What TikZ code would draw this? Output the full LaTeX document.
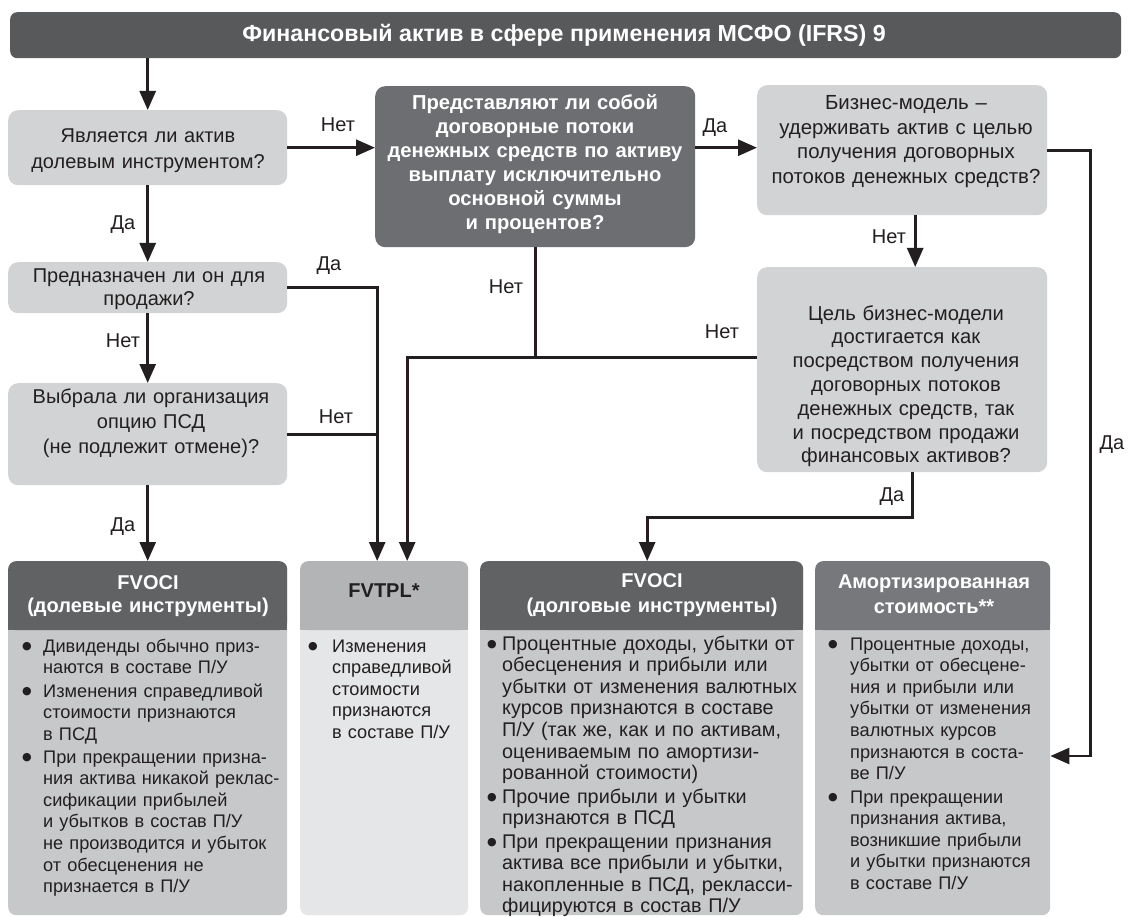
\documentclass[tikz,border=0pt]{standalone}
\usepackage{fontspec}
\setmainfont{Liberation Sans}
\newfontfamily\symfont{DejaVu Sans}
\usetikzlibrary{arrows.meta,calc}
\definecolor{lc}{HTML}{231F20}
\definecolor{tc}{HTML}{231F20}
\definecolor{titlec}{HTML}{58595B}
\definecolor{qlight}{HTML}{D1D3D4}
\definecolor{qdark}{HTML}{6D6E71}
\definecolor{hdrdark}{HTML}{616264}
\definecolor{hdrmid}{HTML}{77787B}
\definecolor{hdrlight}{HTML}{B2B4B6}
\definecolor{bodymid}{HTML}{C7C8CA}
\definecolor{bodylight}{HTML}{E5E6E7}
\begin{document}
\begin{tikzpicture}[x=1pt,y=-1pt,
  box/.style={rectangle, rounded corners=10pt, inner sep=0, draw=none, anchor=north west},
  bbox/.style={rectangle, rounded corners=8pt, inner sep=0, draw=none, anchor=north west},
  arr/.style={-{Triangle[length=19pt,width=16pt]}, line width=2.7pt, draw=lc},
  ln/.style={line width=2.7pt, draw=lc},
  qtxt/.style={inner sep=0, anchor=base, text width=330pt, align=center, text=tc},
  btxt/.style={inner sep=0, anchor=base west, text width=330pt, align=left, text=tc, font=\fontsize{18.2}{21.6}\selectfont},
  btxtw/.style={btxt, font=\fontsize{19.8}{21.6}\selectfont},
  bul/.style={inner sep=0, anchor=center, text=tc, font=\symfont\fontsize{11}{12}\selectfont},
  lbl/.style={inner sep=0, text=tc, font=\fontsize{20}{24}\selectfont}
]
\useasboundingbox (0,0) rectangle (1129,917);
\fill[white] (0,0) rectangle (1129,917);

% title
\node[box, rounded corners=7pt, fill=titlec, minimum width=1111pt, minimum height=46pt] (title) at (10,12) {};
\node[inner sep=0, text=white, font=\fontsize{23.2}{26}\selectfont\bfseries] (titlet) at (564,35) {Финансовый актив в сфере применения МСФО (IFRS) 9};

% question boxes
\node[box, fill=qlight, minimum width=279pt, minimum height=75pt] (q1) at (8,110) {};
\node[box, fill=qdark, minimum width=320pt, minimum height=161pt] (q2) at (375,86) {};
\node[box, fill=qlight, minimum width=290pt, minimum height=130pt] (q3) at (757,85) {};
\node[box, fill=qlight, minimum width=290pt, minimum height=205pt] (q4) at (757,267) {};
\node[box, fill=qlight, minimum width=279pt, minimum height=51pt] (q5) at (8,262) {};
\node[box, fill=qlight, minimum width=279pt, minimum height=102pt] (q6) at (8,383) {};

\node[qtxt, font=\fontsize{20}{26}\selectfont] (q1t) at (148,143) {Является ли актив\\долевым инструментом?};
\node[qtxt, text=white, font=\fontsize{20.2}{24}\selectfont\bfseries] (q2t) at (535,110) {Представляют ли собой\\договорные потоки\\денежных средств по активу\\выплату исключительно\\основной суммы\\и процентов?};
\node[qtxt, font=\fontsize{20.4}{24.4}\selectfont] (q3t) at (906,110) {Бизнес-модель –\\удерживать актив с целью\\получения договорных\\потоков денежных средств?};
\node[qtxt, font=\fontsize{20.2}{23.8}\selectfont] (q4t) at (906,320) {Цель бизнес-модели\\достигается как\\посредством получения\\договорных потоков\\денежных средств, так\\и посредством продажи\\финансовых активов?};
\node[qtxt, font=\fontsize{20}{23}\selectfont] (q5t) at (149,282) {Предназначен ли он для\\продажи?};
\node[qtxt, font=\fontsize{20}{25}\selectfont] (q6t) at (151,403) {Выбрала ли организация\\опцию ПСД\\(не подлежит отмене)?};

% bottom boxes
\node[bbox, fill=bodymid, minimum width=279pt, minimum height=354pt] (fe) at (8,561) {};
\node[bbox, fill=bodylight, minimum width=168pt, minimum height=354pt] (fv) at (300,561) {};
\node[bbox, fill=bodymid, minimum width=323pt, minimum height=354pt] (fd) at (480,561) {};
\node[bbox, fill=bodymid, minimum width=235pt, minimum height=354pt] (am) at (815,561) {};

\node[bbox, fill=hdrdark, minimum width=279pt, minimum height=69pt] (feh) at (8,561) {};
\fill[hdrdark] (8,600) rectangle (287,630);
\node[bbox, fill=hdrlight, minimum width=168pt, minimum height=69pt] (fvh) at (300,561) {};
\fill[hdrlight] (300,600) rectangle (468,630);
\node[bbox, fill=hdrdark, minimum width=323pt, minimum height=69pt] (fdh) at (480,561) {};
\fill[hdrdark] (480,600) rectangle (803,630);
\node[bbox, fill=hdrmid, minimum width=235pt, minimum height=69pt] (amh) at (815,561) {};
\fill[hdrmid] (815,600) rectangle (1050,630);

\node[qtxt, text=white, font=\fontsize{20}{23}\selectfont\bfseries] (fet) at (148,589) {FVOCI\\(долевые инструменты)};
\node[qtxt, text=tc, font=\fontsize{20}{23}\selectfont\bfseries] (fvt) at (384,597) {FVTPL*};
\node[qtxt, text=white, font=\fontsize{20}{25}\selectfont\bfseries] (fdt) at (652,587) {FVOCI\\(долговые инструменты)};
\node[qtxt, text=white, font=\fontsize{20}{25}\selectfont\bfseries] (amt) at (934,588) {Амортизированная\\стоимость**};

% bullets FVOCI equity
\node[bul] (feb1) at (27,646.5) {●};
\node[btxt] (fet1) at (43,652) {Дивиденды обычно приз-\\наются в составе П/У};
\node[bul] (feb2) at (27,691.5) {●};
\node[btxt] (fet2) at (43,697) {Изменения справедливой\\стоимости признаются\\в ПСД};
\node[bul] (feb3) at (27,757.5) {●};
\node[btxt] (fet3) at (43,763) {При прекращении призна-\\ния актива никакой реклас-\\сификации прибылей\\и убытков в состав П/У\\не производится и убыток\\от обесценения не\\признается в П/У};

% FVTPL
\node[bul] (fvb1) at (313,646.5) {●};
\node[btxt] (fvt1) at (332,652) {Изменения\\справедливой\\стоимости\\признаются\\в составе П/У};

% FVOCI debt
\node[bul] (fdb1) at (492,644.5) {●};
\node[btxtw] (fdt1) at (502,650) {Процентные доходы, убытки от\\обесценения и прибыли или\\убытки от изменения валютных\\курсов признаются в составе\\П/У (так же, как и по активам,\\оцениваемым по амортизи-\\рованной стоимости)};
\node[bul] (fdb2) at (492,797.5) {●};
\node[btxtw] (fdt2) at (502,803) {Прочие прибыли и убытки\\признаются в ПСД};
\node[bul] (fdb3) at (492,842.5) {●};
\node[btxtw] (fdt3) at (502,848) {При прекращении признания\\актива все прибыли и убытки,\\накопленные в ПСД, рекласси-\\фицируются в состав П/У};

% amortised
\node[bul] (amb1) at (833,644.5) {●};
\node[btxt] (amt1) at (850,650) {Процентные доходы,\\убытки от обесцене-\\ния и прибыли или\\убытки от изменения\\валютных курсов\\признаются в соста-\\ве П/У};
\node[bul] (amb2) at (833,797.5) {●};
\node[btxt] (amt2) at (850,803) {При прекращении\\признания актива,\\возникшие прибыли\\и убытки признаются\\в составе П/У};

% connectors
\coordinate (amIn) at (am.east |- 0,756);
\coordinate (q4out) at ($(q4.west)+(0,-12.5)$);
\coordinate (fvA) at ($(fv.north)+(-7,0)$);
\coordinate (fvB) at ($(fv.north)+(23,0)$);

\draw[arr] (title.south -| q1.north) -- (q1.north);
\draw[arr] (q1.east) -- (q1.east -| q2.west);
\draw[arr] (q1.east -| q2.east) -- (q1.east -| q3.west);
\draw[arr] (q3.east) -| ($(amIn)+(40,0)$) -- (amIn);
\draw[arr] ($(q3.south)+(13,0)$) -- ($(q4.north)+(13,0)$);
\draw[arr] ($(q4.south)+(10,0)$) -- ++(0,45) -| ($(fd.north)+(5.5,0)$);
\draw[arr] (q4out) -| (fvB);
\draw[ln] (q2.south) -- (q2.south |- q4out);
\draw[arr] (q1.south) -- (q5.north);
\draw[arr] (q5.south) -- (q6.north);
\draw[arr] (q6.south) -- (fe.north);
\draw[arr] (q5.east) -| (fvA);
\draw[ln] (q6.east) -- (q6.east -| fvA);

% labels
\node[lbl] (l1) at (338,125) {Нет};
\node[lbl] (l2) at (715,128) {Да};
\node[lbl] (l3) at (123,225) {Да};
\node[lbl] (l4) at (123,341) {Нет};
\node[lbl] (l5) at (329,266) {Да};
\node[lbl] (l6) at (336,417) {Нет};
\node[lbl] (l7) at (506,287) {Нет};
\node[lbl] (l8) at (722,332) {Нет};
\node[lbl] (l9) at (889,237) {Нет};
\node[lbl] (l10) at (1112,445) {Да};
\node[lbl] (l11) at (892,497) {Да};
\node[lbl] (l12) at (123,527) {Да};
\end{tikzpicture}
\end{document}
